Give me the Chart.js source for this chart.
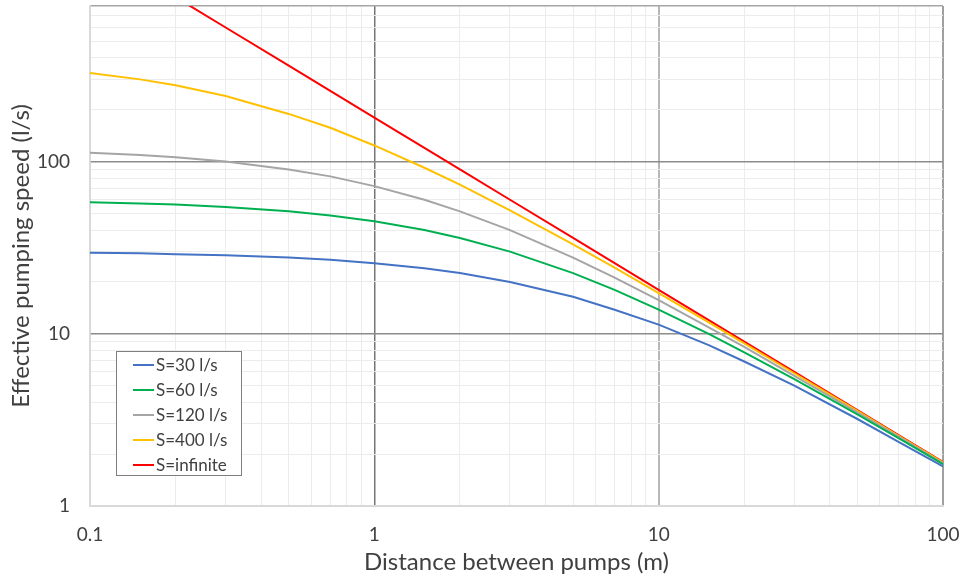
<!DOCTYPE html>
<html>
<head>
<meta charset="utf-8">
<script src="https://cdn.jsdelivr.net/npm/chart.js@4.4.1/dist/chart.umd.min.js"></script>
<style>
  body { margin: 0; background: #fff; }
  #wrap { position: relative; width: 960px; height: 581px; }
  #legend {
    position: absolute; left: 116px; top: 351px; width: 124px; height: 123px;
    border: 1px solid #7f7f7f; background: #fff; font-family: Lato, sans-serif;
    font-size: 17px; color: #404040; box-sizing: content-box;
  }
  #legend .row { position: absolute; left: 0; height: 25px; line-height: 25px; white-space: nowrap; }
  #legend .sw { position: absolute; left: 16px; top: 12px; width: 21px; height: 2px; }
  #legend .tx { position: absolute; left: 39px; top: 0; }
</style>
</head>
<body>
<div id="wrap">
  <canvas id="c" width="960" height="581"></canvas>
  <div id="legend"></div>
</div>
<script>
// distance between pumps (m)
const distances = [0.1, 0.15, 0.2, 0.3, 0.5, 0.7, 1, 1.5, 2, 3, 5, 7, 10, 15, 20, 30, 50, 70, 100];

// effective pumping speed (l/s)
const s30  = [29.5, 29.3, 29.0, 28.6, 27.7, 26.9, 25.7, 24.0, 22.5, 20.0, 16.4, 13.8, 11.3, 8.6, 6.9, 5.0, 3.2, 2.35, 1.70];
const s60  = [58.1, 57.1, 56.3, 54.5, 51.4, 48.6, 45.0, 40.0, 36.0, 30.0, 22.5, 18.0, 13.8, 10.0, 7.8, 5.45, 3.4, 2.47, 1.75];
const s120 = [112.5, 109, 106, 100, 90, 82, 72, 60, 51.4, 40, 27.7, 21.2, 15.7, 10.9, 8.4, 5.7, 3.5, 2.52, 1.77];
const s400 = [327, 300, 277, 240, 189, 157, 124, 92, 73.5, 52, 33, 24.2, 17.2, 11.65, 8.8, 5.9, 3.57, 2.55, 1.79];
const sInf = [1800, 1200, 900, 600, 360, 257, 180, 120, 90, 60, 36, 25.7, 18, 12, 9, 6, 3.6, 2.57, 1.8];

const seriesLabels = ['S=30 l/s', 'S=60 l/s', 'S=120 l/s', 'S=400 l/s', 'S=infinite'];
const seriesColors = ['#4472C4', '#00B050', '#A5A5A5', '#FFC000', '#FF0000'];
const seriesValues = [s30, s60, s120, s400, sInf];

const xMajor = [0.1, 1, 10, 100];
const yMajor = [1, 10, 100];

function logTicks(from, to, max) {
  const out = [];
  for (let e = from; e <= to; e++) {
    for (let m = 1; m <= 9; m++) {
      const v = Number((m * Math.pow(10, e)).toPrecision(3));
      if (v <= max) out.push({ value: v });
    }
  }
  return out;
}

// keep the plot box where the reference has it
function noPad(s) {
  s.paddingTop = 0; s.paddingBottom = 0; s.paddingLeft = 0; s.paddingRight = 0;
}

const datasets = seriesLabels.map((label, i) => ({
  label,
  data: distances.map((d, j) => ({ x: d, y: seriesValues[i][j] })),
  borderColor: seriesColors[i],
  backgroundColor: seriesColors[i],
  borderWidth: 2,
  pointRadius: 0,
  tension: 0,
  fill: false
}));

const tickFont = { family: 'Lato, sans-serif', size: 19 };
const titleFont = { family: 'Lato, sans-serif', size: 24 };

new Chart(document.getElementById('c'), {
  type: 'line',
  data: { datasets },
  options: {
    responsive: false,
    animation: false,
    layout: { padding: { top: 6, right: 17, left: 0, bottom: 0 } },
    plugins: { legend: { display: false }, tooltip: { enabled: false } },
    scales: {
      x: {
        type: 'logarithmic',
        min: 0.1, max: 100,
        afterBuildTicks: s => { s.ticks = logTicks(-1, 1, 100).concat([{ value: 100 }]); },
        afterFit: s => { s.height = 75; noPad(s); },
        ticks: {
          autoSkip: false, maxRotation: 0, padding: 17, color: '#404040', font: tickFont,
          callback: v => xMajor.includes(v) ? String(v) : ''
        },
        grid: {
          drawTicks: false,
          color: c => {
            const v = c.tick && c.tick.value;
            if (v === 1) return '#767676';
            if (v === 10) return '#b8b8b8';
            if (v === 100) return '#a0a0a0';
            if (v === 0.1) return '#d9d9d9';
            return '#ececec';
          },
          lineWidth: c => {
            const v = c.tick && c.tick.value;
            if (v === 10 || v === 100) return 2;
            if (v === 1) return 1.5;
            return 1;
          }
        },
        border: { color: '#d9d9d9', width: 2 },
        title: { display: true, text: 'Distance between pumps (m)', color: '#404040', font: titleFont, padding: { top: 0, bottom: 4 } }
      },
      y: {
        type: 'logarithmic',
        min: 1, max: 800,
        afterBuildTicks: s => { s.ticks = logTicks(0, 2, 800); },
        afterFit: s => { s.width = 90; noPad(s); },
        ticks: {
          autoSkip: false, padding: 20, color: '#404040', font: tickFont,
          callback: v => yMajor.includes(v) ? String(v) : ''
        },
        grid: {
          drawTicks: false,
          color: c => {
            const v = c.tick && c.tick.value;
            if (v === 10 || v === 100) return '#8c8c8c';
            if (v === 800) return '#a6a6a6';
            if (v === 1) return '#d9d9d9';
            return '#ececec';
          },
          lineWidth: c => {
            const v = c.tick && c.tick.value;
            if (v === 10 || v === 100 || v === 800) return 1.5;
            return 1;
          }
        },
        border: { color: '#d9d9d9', width: 1.5 },
        title: { display: true, text: 'Effective pumping speed (l/s)', color: '#404040', font: titleFont, padding: { top: 7, bottom: 0 } }
      }
    }
  }
});

// legend box inside the plot, built from the datasets
const legendEl = document.getElementById('legend');
datasets.forEach((ds, i) => {
  const row = document.createElement('div');
  row.className = 'row';
  row.style.top = (i * 25) + 'px';
  row.innerHTML = '<span class="sw" style="background:' + ds.borderColor + '"></span><span class="tx">' + ds.label + '</span>';
  legendEl.appendChild(row);
});
</script>
</body>
</html>
